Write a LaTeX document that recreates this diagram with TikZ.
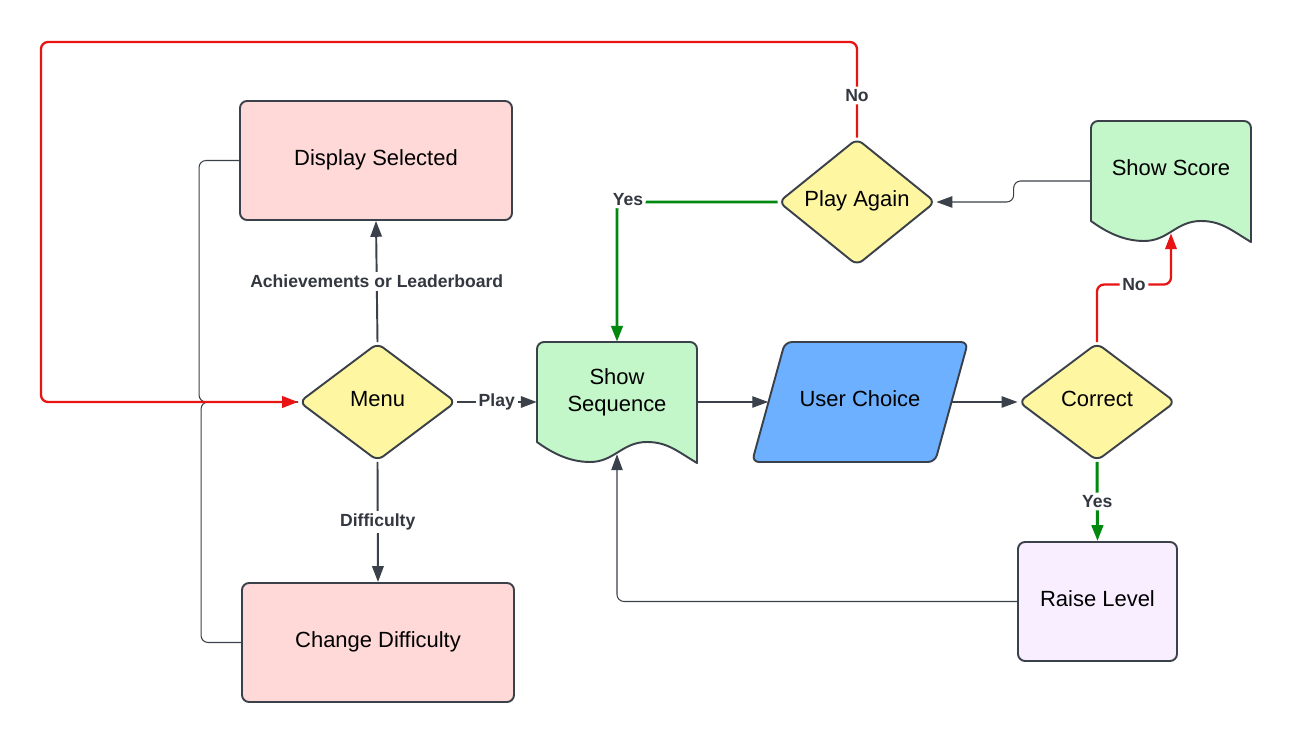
\documentclass[tikz,border=0pt]{standalone}
\usepackage{fontspec}
\setmainfont{Liberation Sans}
\usepackage{xcolor}
\usepackage{tikz}
\usetikzlibrary{shapes.geometric, arrows.meta}
\definecolor{pinkfill}{RGB}{255,216,216}
\definecolor{yellowfill}{RGB}{255,246,162}
\definecolor{greenfill}{RGB}{195,246,200}
\definecolor{bluefill}{RGB}{108,176,255}
\definecolor{lavfill}{RGB}{249,238,255}
\definecolor{linedark}{RGB}{58,65,74}
\definecolor{labelgray}{RGB}{51,56,64}
\definecolor{redline}{RGB}{232,19,19}
\definecolor{greenline}{RGB}{0,137,14}

\begin{document}
\begin{tikzpicture}[>={Triangle[length=9pt,width=6.5pt]}, line join=round]
    \tikzstyle{process} = [rectangle, rounded corners=4pt, minimum width=5.44cm, minimum height=2.38cm, text centered, text height=9pt, text depth=3.5pt, draw=linedark, line width=1.1pt, fill=pinkfill, font={\fontsize{12.5}{15}\selectfont}]
    \tikzstyle{decision} = [diamond, rounded corners=4pt, minimum width=3.14cm, minimum height=2.36cm, inner sep=0pt, text centered, text height=9pt, text depth=3.5pt, draw=linedark, line width=1.1pt, fill=yellowfill, font={\fontsize{12.5}{15}\selectfont}]
    \tikzstyle{inout} = [rectangle, minimum width=3.66cm, minimum height=2.4cm, inner sep=0pt, text centered, text height=9pt, text depth=3.5pt, font={\fontsize{12.5}{15}\selectfont}]
    \tikzstyle{docbox} = [rectangle, minimum width=3.2cm, minimum height=2.4cm, inner sep=0pt]
    \tikzstyle{doctext} = [align=center, font={\fontsize{12.5}{15}\selectfont}]
    \tikzstyle{docline} = [draw=linedark, line width=1.1pt]
    \tikzstyle{mainflow} = [draw=linedark, line width=1.1pt]
    \tikzstyle{flow} = [draw=linedark, line width=0.6pt, rounded corners=4pt]
    \tikzstyle{noflow} = [draw=redline, line width=1.3pt, rounded corners=4pt]
    \tikzstyle{yesflow} = [draw=greenline, line width=1.7pt, rounded corners=4pt]
    \tikzstyle{edgelabel} = [fill=white, text=labelgray, font={\fontsize{10}{12}\selectfont\bfseries}, inner sep=1.5pt]

    \useasboundingbox (0,0) rectangle (25.82,14.86);

    % Menu and its screens
    \node [process] (ds) at (7.52,11.65) {Display Selected};
    \node [process] (cd) at (7.56,2.01) {Change Difficulty};
    \node [decision] (menu) at (7.55,6.82) {Menu};

    % Document shapes
    \draw [docline, fill=greenfill, shift={(12.34,6.82)}] (-1.6,-0.8) [rounded corners=4pt] -- (-1.6,1.2) -- (1.6,1.2) [sharp corners] -- (1.6,-1.22) .. controls (1.2,-0.98) and (1.0,-0.8) .. (0.6,-0.8) .. controls (0.1,-0.8) and (-0.05,-1.2) .. (-0.54,-1.2) .. controls (-0.95,-1.2) and (-1.3,-1.02) .. (-1.6,-0.8) -- cycle;
    \draw [docline, fill=greenfill, shift={(23.42,11.24)}] (-1.6,-0.8) [rounded corners=4pt] -- (-1.6,1.2) -- (1.6,1.2) [sharp corners] -- (1.6,-1.22) .. controls (1.2,-0.98) and (1.0,-0.8) .. (0.6,-0.8) .. controls (0.1,-0.8) and (-0.05,-1.2) .. (-0.54,-1.2) .. controls (-0.95,-1.2) and (-1.3,-1.02) .. (-1.6,-0.8) -- cycle;
    \node [docbox, label={[doctext, yshift=0.19cm]center:Show\\Sequence}] (seq) at (12.34,6.82) {};
    \node [docbox, label={[doctext, yshift=0.27cm]center:Show Score}] (score) at (23.42,11.24) {};

    % Game loop
    \draw [docline, fill=bluefill, rounded corners=4pt, shift={(17.2,6.82)}] (-2.16,-1.2) -- (1.5,-1.2) -- (2.16,1.2) -- (-1.5,1.2) -- cycle;
    \node [inout] (uc) at (17.2,6.82) {User Choice};
    \node [decision] (cor) at (21.94,6.82) {Correct};
    \node [decision] (pa) at (17.14,10.82) {Play Again};
    \node [process, minimum width=3.18cm, fill=lavfill] (rl) at (21.95,2.83) {Raise Level};

    \coordinate (topleft) at (0.82,14.02);

    % Connections
    \draw [flow] (ds.west) -- ++(-0.8,0) |- (menu.west);
    \draw [flow] (cd.west) -- ++(-0.8,0) |- (menu.west);
    \draw [noflow, ->] (pa.north) |- node [edgelabel, pos=0.22] {No} (topleft) |- (menu.west);

    \draw [mainflow, ->] (menu.north) -- node [edgelabel] {Achievements or Leaderboard} (ds.south);
    \draw [mainflow, ->] (menu.south) -- node [edgelabel] {Difficulty} (cd.north);
    \draw [mainflow, ->] (menu.east) -- node [edgelabel] {Play} (seq.west);

    \draw [flow, ->] (seq.east) -- (uc.west);
    \draw [flow, ->] (uc.east) -- (cor.west);
    \draw [yesflow, ->] (cor.south) -- node [edgelabel] {Yes} (rl.north);
    \draw [noflow, ->] (cor.north) -- ++(0,1.15) -| node [edgelabel, pos=0.25] {No} ([yshift=0.16cm]score.south);
    \draw [flow, ->] (score.west) -- ++(-1.54,0) |- (pa.east);
    \draw [yesflow, ->] (pa.west) -| node [edgelabel, pos=0.5, xshift=0.22cm, yshift=0.05cm] {Yes} (seq.north);
    \draw [flow, ->] (rl.west) -| ([yshift=0.16cm]seq.south);
\end{tikzpicture}
\end{document}
